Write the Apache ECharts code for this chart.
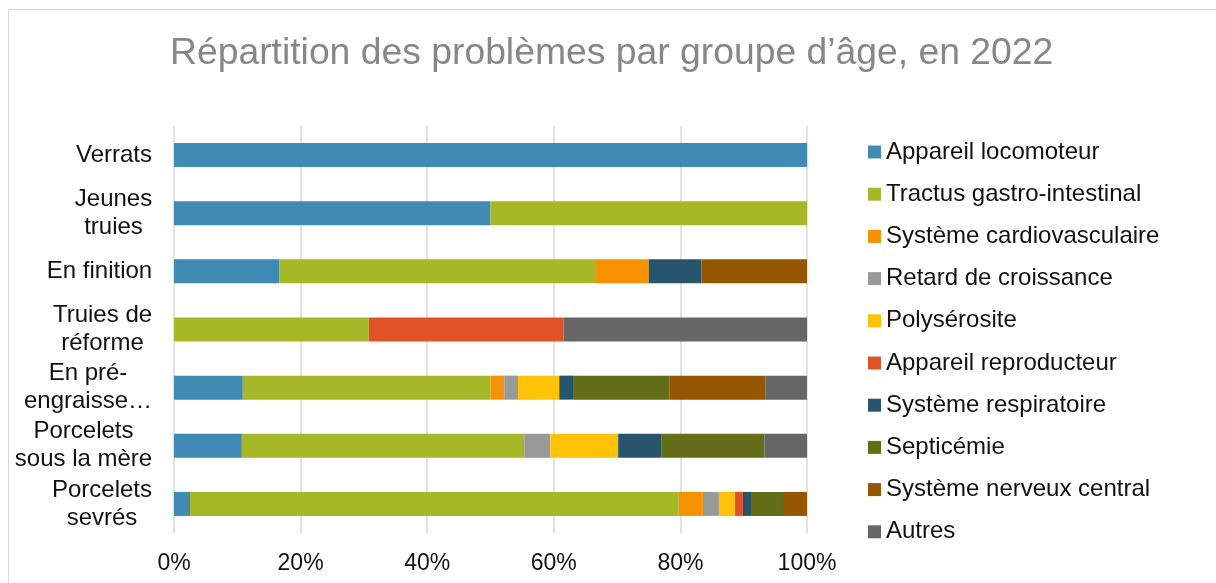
<!DOCTYPE html>
<html>
<head>
<meta charset="utf-8">
<script src="https://cdn.jsdelivr.net/npm/echarts@6/dist/echarts.min.js"></script>
<style>
  html, body { margin: 0; padding: 0; background: #fff; }
  #chart { width: 1216px; height: 583px; }
</style>
</head>
<body>
<div id="chart"></div>
<script>
// groupes d'âge, du haut vers le bas
const groupes = ['Verrats', 'Jeunes\ntruies', 'En finition', 'Truies de\nréforme', 'En pré-\nengraisse…', 'Porcelets\nsous la mère', 'Porcelets\nsevrés'];
const ticks = [0, 20, 40, 60, 80, 100];

// parts en % par problème (même ordre que groupes)
const locomoteur    = [100, 50, 16.67, 0, 10.87, 10.72, 2.53];
const gastro        = [0, 50, 50, 30.77, 39.13, 44.61, 77.22];
const cardio        = [0, 0, 8.33, 0, 2.17, 0, 3.80];
const retard        = [0, 0, 0, 0, 2.17, 4.12, 2.53];
const polyserosite  = [0, 0, 0, 0, 6.52, 10.72, 2.53];
const reproducteur  = [0, 0, 0, 30.77, 0, 0, 1.27];
const respiratoire  = [0, 0, 8.33, 0, 2.17, 6.79, 1.27];
const septicemie    = [0, 0, 0, 0, 15.22, 16.32, 5.06];
const nerveux       = [0, 0, 16.67, 0, 15.22, 0, 3.80];
const autres        = [0, 0, 0, 38.46, 6.52, 6.72, 0];

const FONT = '"Liberation Sans", Arial, sans-serif';

const series = [
  { name: 'Appareil locomoteur', data: locomoteur, color: '#418AB3' },
  { name: 'Tractus gastro-intestinal', data: gastro, color: '#A6B727' },
  { name: 'Système cardiovasculaire', data: cardio, color: '#F69200' },
  { name: 'Retard de croissance', data: retard, color: '#999999' },
  { name: 'Polysérosite', data: polyserosite, color: '#FEC306' },
  { name: 'Appareil reproducteur', data: reproducteur, color: '#DF5327' },
  { name: 'Système respiratoire', data: respiratoire, color: '#27556C' },
  { name: 'Septicémie', data: septicemie, color: '#646E19' },
  { name: 'Système nerveux central', data: nerveux, color: '#945700' },
  { name: 'Autres', data: autres, color: '#666666' }
].map(s => ({
  name: s.name,
  type: 'bar',
  stack: 'total',
  barWidth: 24,
  data: s.data,
  itemStyle: { color: s.color },
  emphasis: { disabled: true }
}));

// largeur de chaque étiquette pour centrer les lignes dans un bloc aligné à droite
const ctx = document.createElement('canvas').getContext('2d');
ctx.font = '24px ' + FONT;
const yData = groupes.map(g => ({
  value: g,
  textStyle: { width: Math.ceil(Math.max(...g.split('\n').map(l => ctx.measureText(l).width))) + 1 }
}));

const chart = echarts.init(document.getElementById('chart'));
chart.setOption({
  animation: false,
  backgroundColor: '#fff',
  title: {
    text: 'Répartition des problèmes par groupe d’âge, en 2022',
    left: 170,
    top: 35,
    padding: 0,
    textStyle: { fontFamily: FONT, fontSize: 37.3, fontWeight: 'normal', color: '#878787' }
  },
  graphic: [{
    type: 'rect',
    shape: { x: 8.5, y: 9.5, width: 1230, height: 600 },
    style: { fill: 'none', stroke: '#d9d9d9', lineWidth: 1 }
  }],
  legend: {
    orient: 'vertical',
    left: 868,
    top: 140,
    padding: 0,
    itemWidth: 13,
    itemHeight: 13,
    itemGap: 18.2,
    icon: 'rect',
    data: series.map(s => s.name),
    textStyle: { fontFamily: FONT, fontSize: 24, color: '#111', lineHeight: 24 }
  },
  grid: { left: 174, right: 409, top: 126, bottom: 50, outerBoundsMode: 'none' },
  xAxis: {
    type: 'value',
    min: ticks[0],
    max: ticks[ticks.length - 1],
    interval: 20,
    axisLine: { show: false },
    axisTick: { show: false },
    splitLine: { lineStyle: { color: '#d9d9d9', width: 1.5 } },
    axisLabel: { fontFamily: FONT, fontSize: 23, color: '#111', margin: 19, formatter: '{value}%' }
  },
  yAxis: {
    type: 'category',
    inverse: true,
    data: yData,
    axisLine: { show: false },
    axisTick: { show: false },
    axisLabel: {
      margin: 21,
      fontFamily: FONT,
      fontSize: 24,
      color: '#111',
      lineHeight: 28,
      formatter: v => v.split('\n').map(l => '{c|' + l + '}').join('\n'),
      rich: { c: { align: 'center', fontFamily: FONT, fontSize: 24, color: '#111', lineHeight: 28 } }
    }
  },
  series: series
});
</script>
</body>
</html>
